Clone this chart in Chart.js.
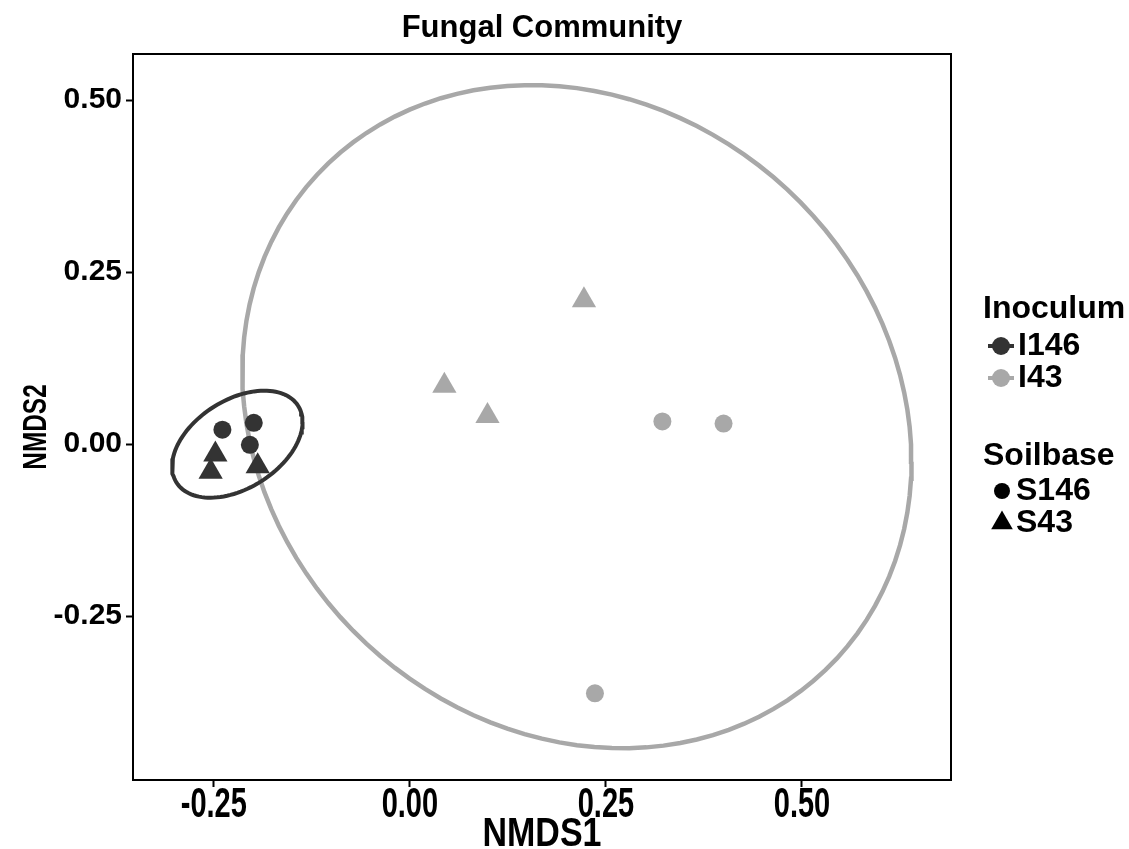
<!DOCTYPE html>
<html>
<head>
<meta charset="utf-8">
<title>Fungal Community</title>
<script src="https://cdn.jsdelivr.net/npm/chart.js@4.4.1/dist/chart.umd.min.js"></script>
<style>
  html, body { margin: 0; padding: 0; background: #fff; }
  canvas { display: block; }
</style>
</head>
<body>
<canvas id="nmds" width="1129" height="849"></canvas>
<script>
// NMDS scores, one entry per sample
const inoculum = ['I146', 'I146', 'I146', 'I146', 'I146', 'I146', 'I43', 'I43', 'I43', 'I43', 'I43', 'I43'];
const soilbase = ['S146', 'S146', 'S146', 'S43', 'S43', 'S43', 'S146', 'S146', 'S146', 'S43', 'S43', 'S43'];
const nmds1 = [-0.239, -0.199, -0.204, -0.248, -0.254, -0.194, 0.322, 0.400, 0.236, 0.222, 0.044, 0.099];
const nmds2 = [0.021, 0.031, -0.001, -0.015, -0.040, -0.032, 0.033, 0.030, -0.362, 0.209, 0.085, 0.041];

const inoculumLevels = ['I146', 'I43'];
const soilLevels = ['S146', 'S43'];
const inoculumColors = ['#333333', '#a8a8a8'];
const soilShapes = ['circle', 'triangle'];

// 95% ellipse per inoculum: centre and shape matrix in NMDS units
const ellipseCx = [-0.220, 0.213];
const ellipseCy = [0.000, 0.040];
const ellipseSxx = [0.00692, 0.1820];
const ellipseSyy = [0.00605, 0.2322];
const ellipseSxy = [0.00269, -0.0279];

const xTicks = [-0.25, 0, 0.25, 0.5];
const yTicks = [-0.25, 0, 0.25, 0.5];

const plotTitle = 'Fungal Community';
const xTitle = 'NMDS1';
const yTitle = 'NMDS2';

const sans = "'Liberation Sans', Arial, sans-serif";

function ellipsePath(k) {
  const a = Math.sqrt(ellipseSxx[k]);
  const c = ellipseSxy[k] / a;
  const d = Math.sqrt(ellipseSyy[k] - c * c);
  const pts = [];
  for (let i = 0; i <= 120; i++) {
    const t = (i / 120) * Math.PI * 2;
    pts.push({ x: ellipseCx[k] + a * Math.cos(t), y: ellipseCy[k] + c * Math.cos(t) + d * Math.sin(t) });
  }
  return pts;
}

const datasets = [];
inoculumLevels.forEach((inoc, i) => {
  soilLevels.forEach((soil, s) => {
    const pts = [];
    nmds1.forEach((x, n) => {
      if (inoculum[n] === inoc && soilbase[n] === soil) pts.push({ x, y: nmds2[n] });
    });
    datasets.push({
      label: inoc + ' ' + soil,
      data: pts,
      pointStyle: soilShapes[s],
      pointRadius: s === 0 ? 9 : 14,
      backgroundColor: inoculumColors[i],
      borderColor: inoculumColors[i],
      borderWidth: 0,
      order: 0,
    });
  });
});
inoculumLevels.forEach((inoc, i) => {
  datasets.push({
    label: inoc + ' ellipse',
    data: ellipsePath(i),
    showLine: true,
    fill: false,
    pointRadius: 0,
    borderColor: inoculumColors[i],
    borderWidth: i === 0 ? 4 : 4.5,
    tension: 0,
    order: 1,
  });
});

// squeezed text, as the axis text is set in a condensed face
function narrowText(ctx, text, x, y, squeeze) {
  ctx.save();
  ctx.translate(x, y);
  ctx.scale(squeeze, 1);
  ctx.fillText(text, 0, 0);
  ctx.restore();
}

// frame, plot title, x tick labels and axis titles
const panelText = {
  id: 'panelText',
  afterDatasetsDraw(chart) {
    const { ctx, chartArea: a, scales } = chart;
    ctx.save();
    ctx.strokeStyle = '#000';
    ctx.lineWidth = 2;
    ctx.strokeRect(a.left, a.top, a.right - a.left, a.bottom - a.top);

    ctx.fillStyle = '#000';
    ctx.textAlign = 'center';
    ctx.textBaseline = 'alphabetic';
    ctx.font = 'bold 31px ' + sans;
    ctx.fillText(plotTitle, (a.left + a.right) / 2, 37);

    ctx.font = 'bold 42px ' + sans;
    scales.x.ticks.forEach((t) => {
      narrowText(ctx, t.value.toFixed(2), scales.x.getPixelForValue(t.value), 817, 0.69);
    });
    ctx.font = 'bold 40px ' + sans;
    narrowText(ctx, xTitle, (a.left + a.right) / 2, 846, 0.85);

    ctx.save();
    ctx.translate(46, 427);
    ctx.rotate(-Math.PI / 2);
    ctx.font = 'bold 33px ' + sans;
    narrowText(ctx, yTitle, 0, 0, 0.74);
    ctx.restore();
    ctx.restore();
  },
};

// two-part key at the right: colour by inoculum, shape by soilbase
const sideKey = {
  id: 'sideKey',
  afterDraw(chart) {
    const ctx = chart.ctx;
    const x0 = 983;
    const textX = 1016;
    ctx.save();
    ctx.textBaseline = 'middle';
    ctx.textAlign = 'left';
    ctx.fillStyle = '#000';
    ctx.font = 'bold 32px ' + sans;
    ctx.fillText('Inoculum', x0, 309);
    inoculumLevels.forEach((name, i) => {
      const y = 346 + i * 32;
      ctx.strokeStyle = inoculumColors[i];
      ctx.lineWidth = 4;
      ctx.beginPath();
      ctx.moveTo(988, y);
      ctx.lineTo(1014, y);
      ctx.stroke();
      ctx.fillStyle = inoculumColors[i];
      ctx.beginPath();
      ctx.arc(1001, y, 9, 0, Math.PI * 2);
      ctx.fill();
      ctx.fillStyle = '#000';
      ctx.fillText(name, textX + 2, y);
    });
    ctx.fillText('Soilbase', x0, 456);
    soilLevels.forEach((name, s) => {
      const y = 491 + s * 32;
      ctx.fillStyle = '#000';
      ctx.beginPath();
      if (soilShapes[s] === 'circle') {
        ctx.arc(1002, y, 8, 0, Math.PI * 2);
      } else {
        const r = 12.5;
        ctx.moveTo(1002, y - r);
        ctx.lineTo(1002 + r * 0.866, y + r / 2);
        ctx.lineTo(1002 - r * 0.866, y + r / 2);
        ctx.closePath();
      }
      ctx.fill();
      ctx.fillText(name, textX, y);
    });
    ctx.restore();
  },
};

new Chart(document.getElementById('nmds'), {
  type: 'scatter',
  data: { datasets },
  options: {
    responsive: false,
    animation: false,
    events: [],
    layout: { padding: { left: 0, right: 178, top: 54, bottom: 0 } },
    plugins: {
      legend: { display: false },
      tooltip: { enabled: false },
      title: { display: false },
    },
    scales: {
      x: {
        type: 'linear',
        min: -0.353,
        max: 0.690,
        afterBuildTicks: (scale) => { scale.ticks = xTicks.map((v) => ({ value: v })); },
        afterFit: (scale) => { scale.height = 69; },
        ticks: { display: false },
        grid: { drawOnChartArea: false, drawTicks: true, tickLength: 7, tickWidth: 2, tickColor: '#000' },
        border: { display: true, color: '#000', width: 2 },
        title: { display: false },
      },
      y: {
        type: 'linear',
        min: -0.488,
        max: 0.567,
        afterBuildTicks: (scale) => { scale.ticks = yTicks.map((v) => ({ value: v })); },
        afterFit: (scale) => { scale.width = 133; },
        ticks: {
          color: '#000',
          padding: 4,
          font: { family: sans, size: 30, weight: 'bold', lineHeight: 1 },
          callback: (v) => v.toFixed(2),
        },
        grid: { drawOnChartArea: false, drawTicks: true, tickLength: 7, tickWidth: 2, tickColor: '#000' },
        border: { display: true, color: '#000', width: 2 },
        title: { display: false },
      },
    },
  },
  plugins: [panelText, sideKey],
});
</script>
</body>
</html>
